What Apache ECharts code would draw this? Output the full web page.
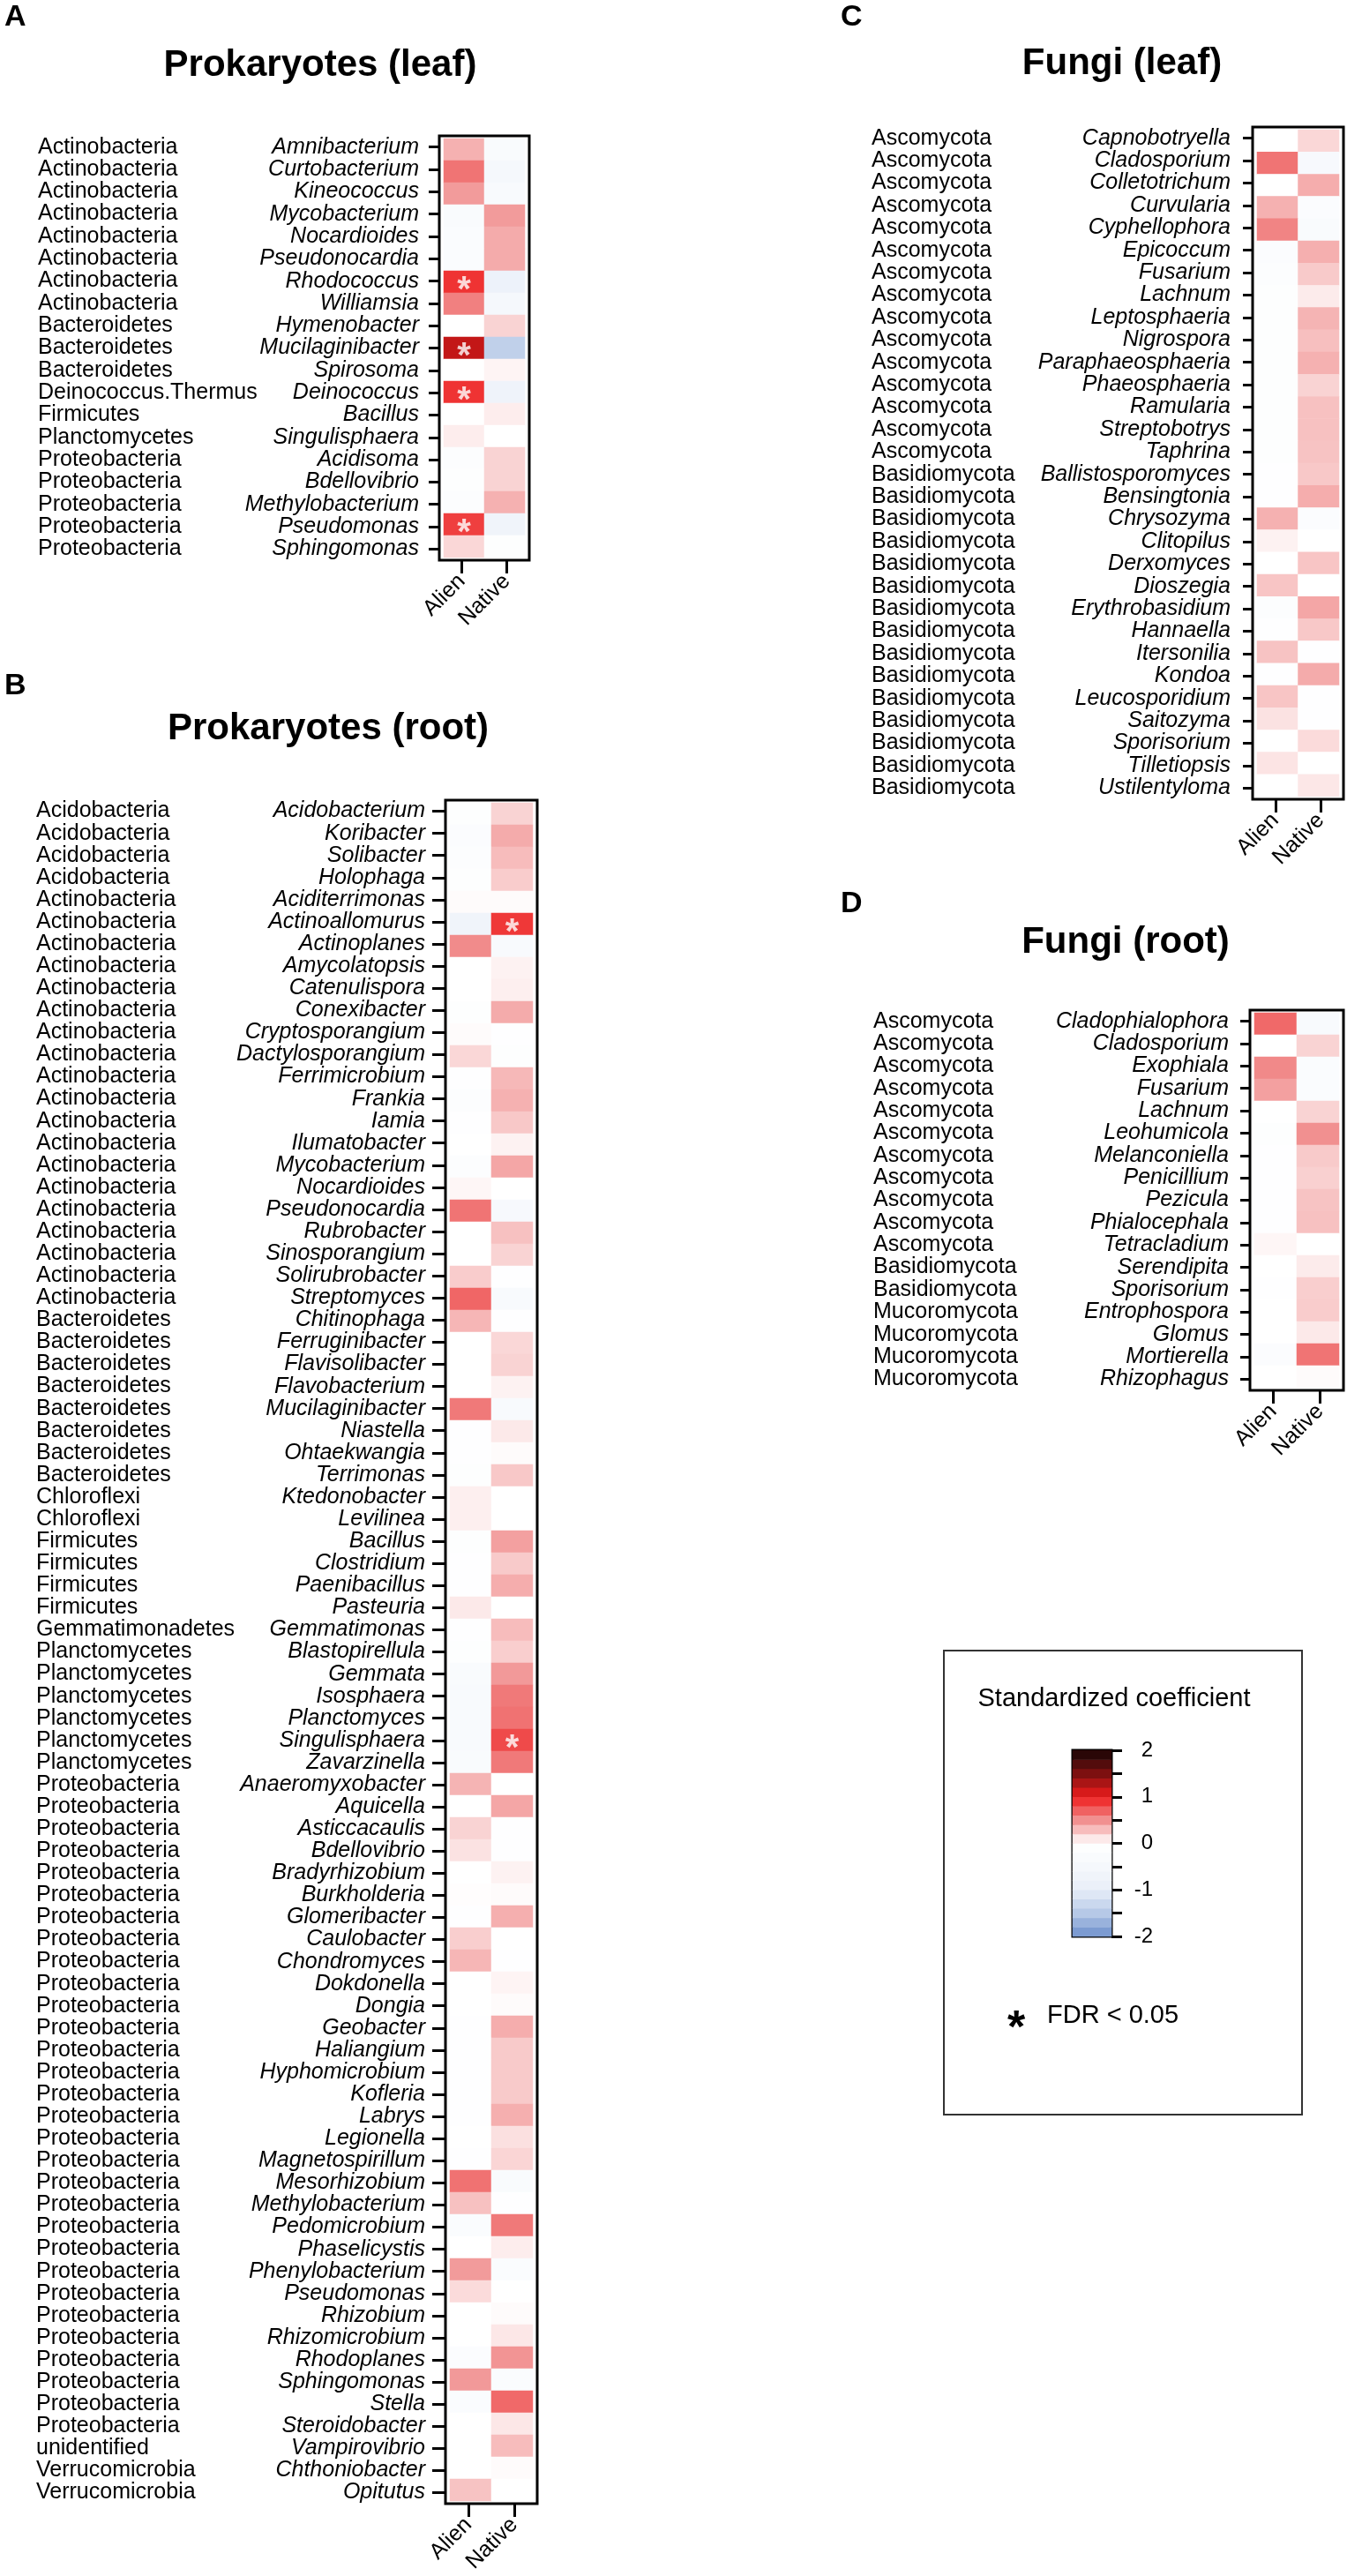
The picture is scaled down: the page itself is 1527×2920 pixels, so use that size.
<!DOCTYPE html>
<html lang="en">
<head>
    <meta charset="UTF-8">
    <title>Standardized coefficients heatmaps</title>
    <script src="https://cdn.jsdelivr.net/npm/echarts@6.0.0/dist/echarts.min.js"></script>
    <style>
        html, body { margin: 0; padding: 0; background: #fff; }
    </style>
</head>
<body>
    <div id="main" style="width: 1527px;height:2920px;"></div>
    <script type="text/javascript">
        // columns of every heatmap
        var groups = ['Alien', 'Native'];

        // A: prokaryotes, leaf
        var leafProkPhyla = ['Actinobacteria', 'Actinobacteria', 'Actinobacteria', 'Actinobacteria', 'Actinobacteria',
            'Actinobacteria', 'Actinobacteria', 'Actinobacteria', 'Bacteroidetes', 'Bacteroidetes', 'Bacteroidetes',
            'Deinococcus.Thermus', 'Firmicutes', 'Planctomycetes', 'Proteobacteria', 'Proteobacteria', 'Proteobacteria',
            'Proteobacteria', 'Proteobacteria'];
        var leafProkGenera = ['Amnibacterium', 'Curtobacterium', 'Kineococcus', 'Mycobacterium', 'Nocardioides',
            'Pseudonocardia', 'Rhodococcus', 'Williamsia', 'Hymenobacter', 'Mucilaginibacter', 'Spirosoma',
            'Deinococcus', 'Bacillus', 'Singulisphaera', 'Acidisoma', 'Bdellovibrio', 'Methylobacterium',
            'Pseudomonas', 'Sphingomonas'];
        var leafProkAlien = [0.35, 0.62, 0.45, -0.3, -0.25, -0.25, 0.9, 0.57, 0, 1.19, 0, 0.9, 0, 0.08, -0.15, -0.1, -0.15, 0.85, 0.18];
        var leafProkNative = [-0.3, -0.5, -0.35, 0.45, 0.38, 0.38, -0.8, -0.5, 0.2, -1.4, 0.05, -0.75, 0.08, 0, 0.2, 0.2, 0.35, -0.7, -0.1];
        var leafProkSig = [['Alien', 'Rhodococcus'], ['Alien', 'Mucilaginibacter'], ['Alien', 'Deinococcus'], ['Alien', 'Pseudomonas']];

        // B: prokaryotes, root
        var rootProkPhyla = ['Acidobacteria', 'Acidobacteria', 'Acidobacteria', 'Acidobacteria',
            'Actinobacteria', 'Actinobacteria', 'Actinobacteria', 'Actinobacteria', 'Actinobacteria', 'Actinobacteria',
            'Actinobacteria', 'Actinobacteria', 'Actinobacteria', 'Actinobacteria', 'Actinobacteria', 'Actinobacteria',
            'Actinobacteria', 'Actinobacteria', 'Actinobacteria', 'Actinobacteria', 'Actinobacteria', 'Actinobacteria',
            'Actinobacteria',
            'Bacteroidetes', 'Bacteroidetes', 'Bacteroidetes', 'Bacteroidetes', 'Bacteroidetes', 'Bacteroidetes',
            'Bacteroidetes', 'Bacteroidetes',
            'Chloroflexi', 'Chloroflexi',
            'Firmicutes', 'Firmicutes', 'Firmicutes', 'Firmicutes',
            'Gemmatimonadetes',
            'Planctomycetes', 'Planctomycetes', 'Planctomycetes', 'Planctomycetes', 'Planctomycetes', 'Planctomycetes',
            'Proteobacteria', 'Proteobacteria', 'Proteobacteria', 'Proteobacteria', 'Proteobacteria', 'Proteobacteria',
            'Proteobacteria', 'Proteobacteria', 'Proteobacteria', 'Proteobacteria', 'Proteobacteria', 'Proteobacteria',
            'Proteobacteria', 'Proteobacteria', 'Proteobacteria', 'Proteobacteria', 'Proteobacteria', 'Proteobacteria',
            'Proteobacteria', 'Proteobacteria', 'Proteobacteria', 'Proteobacteria', 'Proteobacteria', 'Proteobacteria',
            'Proteobacteria', 'Proteobacteria', 'Proteobacteria', 'Proteobacteria', 'Proteobacteria', 'Proteobacteria',
            'unidentified', 'Verrucomicrobia', 'Verrucomicrobia'];
        var rootProkGenera = ['Acidobacterium', 'Koribacter', 'Solibacter', 'Holophaga', 'Aciditerrimonas',
            'Actinoallomurus', 'Actinoplanes', 'Amycolatopsis', 'Catenulispora', 'Conexibacter', 'Cryptosporangium',
            'Dactylosporangium', 'Ferrimicrobium', 'Frankia', 'Iamia', 'Ilumatobacter', 'Mycobacterium', 'Nocardioides',
            'Pseudonocardia', 'Rubrobacter', 'Sinosporangium', 'Solirubrobacter', 'Streptomyces', 'Chitinophaga',
            'Ferruginibacter', 'Flavisolibacter', 'Flavobacterium', 'Mucilaginibacter', 'Niastella', 'Ohtaekwangia',
            'Terrimonas', 'Ktedonobacter', 'Levilinea', 'Bacillus', 'Clostridium', 'Paenibacillus', 'Pasteuria',
            'Gemmatimonas', 'Blastopirellula', 'Gemmata', 'Isosphaera', 'Planctomyces', 'Singulisphaera', 'Zavarzinella',
            'Anaeromyxobacter', 'Aquicella', 'Asticcacaulis', 'Bdellovibrio', 'Bradyrhizobium', 'Burkholderia',
            'Glomeribacter', 'Caulobacter', 'Chondromyces', 'Dokdonella', 'Dongia', 'Geobacter', 'Haliangium',
            'Hyphomicrobium', 'Kofleria', 'Labrys', 'Legionella', 'Magnetospirillum', 'Mesorhizobium', 'Methylobacterium',
            'Pedomicrobium', 'Phaselicystis', 'Phenylobacterium', 'Pseudomonas', 'Rhizobium', 'Rhizomicrobium',
            'Rhodoplanes', 'Sphingomonas', 'Stella', 'Steroidobacter', 'Vampirovibrio', 'Chthoniobacter', 'Opitutus'];
        var rootProkAlien = [-0.1, -0.2, -0.15, -0.1, 0.02, -0.7, 0.52, 0, 0, -0.1,
            0.02, 0.18, -0.05, -0.15, -0.05, 0, -0.15, 0.04, 0.62, 0,
            0, 0.23, 0.68, 0.33, 0, 0, 0, 0.6, -0.05, -0.05,
            -0.1, 0.07, 0.07, -0.1, -0.05, -0.05, 0.1, -0.05, -0.1, -0.3,
            -0.35, -0.35, -0.35, -0.3, 0.34, 0, 0.2, 0.13, 0, 0.01,
            -0.05, 0.22, 0.33, 0, 0, -0.05, -0.05, -0.05, -0.05, -0.05,
            0, -0.05, 0.63, 0.28, -0.25, 0, 0.45, 0.16, 0, 0,
            -0.2, 0.46, -0.25, 0, 0, 0, 0.27];
        var rootProkNative = [0.2, 0.38, 0.3, 0.23, 0.02, 0.88, -0.35, 0.06, 0.07, 0.38,
            -0.05, -0.1, 0.32, 0.35, 0.25, 0.06, 0.4, 0, -0.4, 0.28,
            0.2, -0.05, -0.35, -0.05, 0.18, 0.2, 0.06, -0.35, 0.1, 0.02,
            0.25, 0, 0, 0.43, 0.24, 0.37, 0, 0.3, 0.22, 0.46,
            0.6, 0.63, 0.8, 0.6, 0, 0.4, -0.05, -0.05, 0.06, 0.02,
            0.36, 0, -0.05, 0.05, 0.02, 0.37, 0.24, 0.24, 0.24, 0.36,
            0.14, 0.19, -0.3, -0.05, 0.6, 0.08, -0.25, 0, 0.02, 0.11,
            0.48, -0.25, 0.67, 0.11, 0.3, 0.02, 0];
        var rootProkSig = [['Native', 'Actinoallomurus'], ['Native', 'Singulisphaera']];

        // C: fungi, leaf
        var leafFungiPhyla = ['Ascomycota', 'Ascomycota', 'Ascomycota', 'Ascomycota', 'Ascomycota', 'Ascomycota',
            'Ascomycota', 'Ascomycota', 'Ascomycota', 'Ascomycota', 'Ascomycota', 'Ascomycota', 'Ascomycota',
            'Ascomycota', 'Ascomycota',
            'Basidiomycota', 'Basidiomycota', 'Basidiomycota', 'Basidiomycota', 'Basidiomycota', 'Basidiomycota',
            'Basidiomycota', 'Basidiomycota', 'Basidiomycota', 'Basidiomycota', 'Basidiomycota', 'Basidiomycota',
            'Basidiomycota', 'Basidiomycota', 'Basidiomycota'];
        var leafFungiGenera = ['Capnobotryella', 'Cladosporium', 'Colletotrichum', 'Curvularia', 'Cyphellophora',
            'Epicoccum', 'Fusarium', 'Lachnum', 'Leptosphaeria', 'Nigrospora', 'Paraphaeosphaeria', 'Phaeosphaeria',
            'Ramularia', 'Streptobotrys', 'Taphrina', 'Ballistosporomyces', 'Bensingtonia', 'Chrysozyma', 'Clitopilus',
            'Derxomyces', 'Dioszegia', 'Erythrobasidium', 'Hannaella', 'Itersonilia', 'Kondoa', 'Leucosporidium',
            'Saitozyma', 'Sporisorium', 'Tilletiopsis', 'Ustilentyloma'];
        var leafFungiAlien = [0, 0.62, 0, 0.35, 0.55, -0.2, -0.15, -0.1, -0.1, -0.1, -0.1, -0.1, -0.1, -0.1, -0.1,
            -0.05, -0.05, 0.35, 0.06, 0, 0.26, -0.15, -0.05, 0.27, -0.05, 0.26, 0.13, 0, 0.12, 0];
        var leafFungiNative = [0.18, -0.4, 0.37, -0.2, -0.3, 0.36, 0.24, 0.09, 0.34, 0.29, 0.35, 0.2, 0.28, 0.28, 0.27,
            0.25, 0.37, -0.2, 0, 0.26, 0, 0.4, 0.25, -0.05, 0.38, -0.05, -0.05, 0.16, 0, 0.11];
        var leafFungiSig = [];

        // D: fungi, root
        var rootFungiPhyla = ['Ascomycota', 'Ascomycota', 'Ascomycota', 'Ascomycota', 'Ascomycota', 'Ascomycota',
            'Ascomycota', 'Ascomycota', 'Ascomycota', 'Ascomycota', 'Ascomycota', 'Basidiomycota', 'Basidiomycota',
            'Mucoromycota', 'Mucoromycota', 'Mucoromycota', 'Mucoromycota'];
        var rootFungiGenera = ['Cladophialophora', 'Cladosporium', 'Exophiala', 'Fusarium', 'Lachnum', 'Leohumicola',
            'Melanconiella', 'Penicillium', 'Pezicula', 'Phialocephala', 'Tetracladium', 'Serendipita', 'Sporisorium',
            'Entrophospora', 'Glomus', 'Mortierella', 'Rhizophagus'];
        var rootFungiAlien = [0.67, 0, 0.53, 0.43, 0, -0.1, -0.05, -0.05, -0.05, -0.05, 0.04, 0, -0.05, 0, 0, -0.2, 0];
        var rootFungiNative = [-0.35, 0.2, -0.25, -0.25, 0.2, 0.5, 0.24, 0.21, 0.27, 0.28, 0, 0.09, 0.22, 0.23, 0.1, 0.62, 0.02];
        var rootFungiSig = [];

        // colour key
        var keyBands = [-1.9, -1.7, -1.5, -1.3, -1.1, -0.9, -0.7, -0.5, -0.3, -0.1,
            0.1, 0.3, 0.5, 0.7, 0.9, 1.1, 1.3, 1.5, 1.7, 1.9];
        var keyTicks = [-2, -1, 0, 1, 2];

        var FONT = '"Liberation Sans", Arial, Helvetica, sans-serif';
        var palette = ['#6d8fcb', '#b6c9e7', '#e8eef8', '#f5f8fc', '#ffffff', '#f19090', '#ee1c1c', '#7d1010', '#150505'];

        // layout of the four panels (pixels)
        var panels = [
            {letter: 'A', title: 'Prokaryotes (leaf)', phyla: leafProkPhyla, genera: leafProkGenera,
                alien: leafProkAlien, native: leafProkNative, sig: leafProkSig,
                box: {left: 498, top: 154, width: 102, height: 481}, phylumX: 43, gap: 23, tick: 12,
                titleX: 363, titleY: 74, letterX: 5, letterY: 20},
            {letter: 'B', title: 'Prokaryotes (root)', phyla: rootProkPhyla, genera: rootProkGenera,
                alien: rootProkAlien, native: rootProkNative, sig: rootProkSig,
                box: {left: 505, top: 907, width: 104, height: 1931}, phylumX: 41, gap: 23, tick: 15,
                titleX: 372, titleY: 826, letterX: 5, letterY: 778},
            {letter: 'C', title: 'Fungi (leaf)', phyla: leafFungiPhyla, genera: leafFungiGenera,
                alien: leafFungiAlien, native: leafFungiNative, sig: leafFungiSig,
                box: {left: 1420, top: 144, width: 103, height: 762}, phylumX: 988, gap: 25, tick: 11,
                titleX: 1272, titleY: 72, letterX: 953, letterY: 20},
            {letter: 'D', title: 'Fungi (root)', phyla: rootFungiPhyla, genera: rootFungiGenera,
                alien: rootFungiAlien, native: rootFungiNative, sig: rootFungiSig,
                box: {left: 1417, top: 1145, width: 106, height: 431}, phylumX: 990, gap: 24, tick: 11,
                titleX: 1276, titleY: 1068, letterX: 953, letterY: 1025}
        ];

        var grids = [], xAxes = [], yAxes = [], series = [], graphics = [], heatIdx = [];

        panels.forEach(function (p, k) {
            var b = p.box;
            // frame grid carries the box and the visible axes
            grids.push({left: b.left, top: b.top, width: b.width, height: b.height, show: true,
                borderColor: '#000', borderWidth: 3, backgroundColor: 'transparent', outerBoundsMode: 'none'});
            // cell grid sits a little inside the box
            grids.push({left: b.left + 5, top: b.top + 3, width: b.width - 10, height: b.height - 6,
                show: false, outerBoundsMode: 'none'});

            xAxes.push({type: 'category', gridIndex: 2 * k, data: groups, position: 'bottom',
                axisLine: {show: false},
                axisTick: {show: true, alignWithLabel: true, length: 15, lineStyle: {color: '#000', width: 3}},
                axisLabel: {rotate: 45, interval: 0, margin: 20, fontSize: 25, color: '#000', fontFamily: FONT},
                splitLine: {show: false}});
            xAxes.push({type: 'category', gridIndex: 2 * k + 1, data: groups, show: false});

            yAxes.push({type: 'category', gridIndex: 2 * k, data: p.genera, inverse: true, position: 'left',
                axisLine: {show: false},
                axisTick: {show: true, alignWithLabel: true, interval: 0, length: p.tick, lineStyle: {color: '#000', width: 3}},
                axisLabel: {interval: 0, margin: p.gap, fontSize: 25, fontStyle: 'italic', color: '#000', fontFamily: FONT},
                splitLine: {show: false}});
            yAxes.push({type: 'category', gridIndex: 2 * k, data: p.phyla, inverse: true, position: 'left',
                axisLine: {show: false}, axisTick: {show: false},
                axisLabel: {interval: 0, align: 'left', margin: b.left - p.phylumX, fontSize: 25, color: '#000', fontFamily: FONT},
                splitLine: {show: false}});
            yAxes.push({type: 'category', gridIndex: 2 * k + 1, data: p.genera, inverse: true, show: false});

            var cells = [];
            p.genera.forEach(function (g, i) {
                cells.push([0, i, p.alien[i]]);
                cells.push([1, i, p.native[i]]);
            });
            heatIdx.push(series.length);
            series.push({type: 'heatmap', name: p.title, xAxisIndex: 2 * k + 1, yAxisIndex: 3 * k + 2,
                data: cells, silent: true, itemStyle: {borderWidth: 0}});

            series.push({type: 'scatter', xAxisIndex: 2 * k + 1, yAxisIndex: 3 * k + 2, silent: true,
                symbolSize: 1, itemStyle: {color: 'rgba(0,0,0,0)'},
                data: p.sig.map(function (s) { return [groups.indexOf(s[0]), p.genera.indexOf(s[1])]; }),
                label: {show: true, position: 'inside', formatter: '*', color: '#fff', fontSize: 40,
                    fontWeight: 'bold', fontFamily: FONT, offset: [0, 10]}});

            graphics.push({type: 'text', x: p.letterX, y: p.letterY,
                style: {text: p.letter, font: 'bold 34px ' + FONT, fill: '#000', textAlign: 'left', textVerticalAlign: 'middle'}});
            graphics.push({type: 'text', x: p.titleX, y: p.titleY,
                style: {text: p.title, font: 'bold 42px ' + FONT, fill: '#000', textAlign: 'center', textVerticalAlign: 'middle'}});
        });

        // colour key bar
        var kg = grids.length;
        grids.push({left: 1216, top: 1984, width: 44, height: 211, show: true, borderColor: '#000', borderWidth: 3,
            backgroundColor: 'transparent', outerBoundsMode: 'none'});
        xAxes.push({type: 'category', gridIndex: kg, data: ['key'], show: false});
        var ky = yAxes.length;
        yAxes.push({type: 'category', gridIndex: kg, data: keyBands.map(String), show: false});
        yAxes.push({type: 'value', gridIndex: kg, position: 'right', min: -2, max: 2, interval: 0.5,
            axisLine: {show: false}, splitLine: {show: false},
            axisTick: {show: true, length: 12, lineStyle: {color: '#000', width: 3}},
            axisLabel: {margin: 47, align: 'right', fontSize: 24, color: '#000', fontFamily: FONT,
                formatter: function (v) { return keyTicks.indexOf(v) >= 0 ? String(v) : ''; }}});
        heatIdx.push(series.length);
        series.push({type: 'heatmap', xAxisIndex: xAxes.length - 1, yAxisIndex: ky, silent: true,
            data: keyBands.map(function (v, i) { return [0, i, v]; })});

        // key frame and texts
        graphics.push({type: 'rect', shape: {x: 1070, y: 1871, width: 406, height: 526},
            style: {fill: 'none', stroke: '#333', lineWidth: 2}});
        graphics.push({type: 'text', x: 1263, y: 1926,
            style: {text: 'Standardized coefficient', font: '29px ' + FONT, fill: '#000', textAlign: 'center', textVerticalAlign: 'middle'}});
        graphics.push({type: 'text', x: 1152, y: 2301,
            style: {text: '*', font: 'bold 52px ' + FONT, fill: '#000', textAlign: 'center', textVerticalAlign: 'middle'}});
        graphics.push({type: 'text', x: 1187, y: 2285,
            style: {text: 'FDR < 0.05', font: '29px ' + FONT, fill: '#000', textAlign: 'left', textVerticalAlign: 'middle'}});

        var myChart = echarts.init(document.getElementById('main'), null, {renderer: 'canvas'});
        myChart.setOption({
            animation: false,
            backgroundColor: '#fff',
            grid: grids,
            xAxis: xAxes,
            yAxis: yAxes,
            visualMap: {type: 'continuous', min: -2, max: 2, show: false, seriesIndex: heatIdx,
                inRange: {color: palette}},
            series: series,
            graphic: graphics
        });
    </script>
</body>
</html>
